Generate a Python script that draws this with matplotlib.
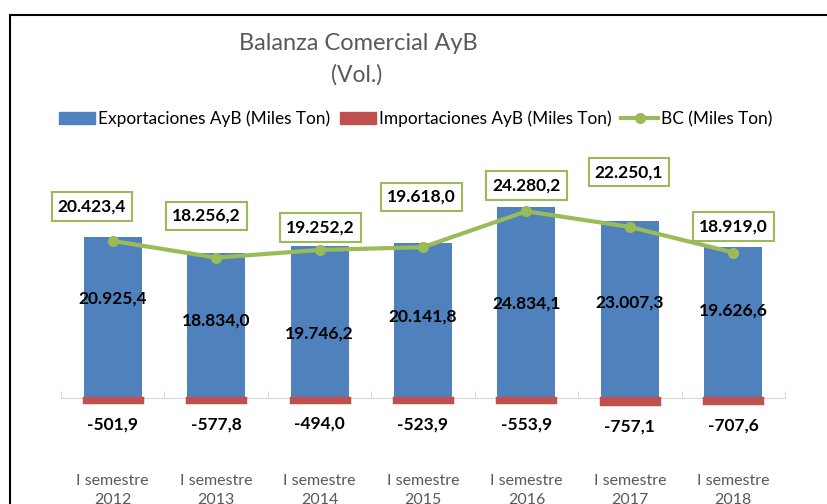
import matplotlib
matplotlib.use("Agg")
import matplotlib.pyplot as plt
from matplotlib.patches import Rectangle, Patch
from matplotlib.lines import Line2D
import numpy as np

plt.rcParams['font.family'] = ['Lato', 'DejaVu Sans']

# data
categories = ["I semestre\n2012", "I semestre\n2013", "I semestre\n2014", "I semestre\n2015",
              "I semestre\n2016", "I semestre\n2017", "I semestre\n2018"]
exportaciones = [20925.4, 18834.0, 19746.2, 20141.8, 24834.1, 23007.3, 19626.6]
importaciones = [-501.9, -577.8, -494.0, -523.9, -553.9, -757.1, -707.6]
balanza = [20423.4, 18256.2, 19252.2, 19618.0, 24280.2, 22250.1, 18919.0]

# label offsets (points), moved by hand in the original
exp_label_dy = [14, 3.3, -8, 2.6, -0.4, 4.7, 9]
bc_label_dx = [-15, -7, 0.7, -1.4, 0, -0.7, 0]
bc_label_dy = [24.8, 30, 16.2, 36.4, 18.6, 39.5, 18.7]

BLUE = "#4f81bd"
RED = "#c0504d"
GREEN = "#9bbb59"
GREY = "#595959"


def fmt(v):
    s = f"{v:,.1f}"
    return s.replace(",", "X").replace(".", ",").replace("X", ".")


W, H = 827, 504
fig = plt.figure(figsize=(W / 100, H / 100), dpi=100)
ymin, ymax = -8000, 33500
ax = fig.add_axes([61 / W, 1 - 459.5 / H, 724 / W, 319.1 / H])

x = np.arange(len(categories))
ax.bar(x, exportaciones, width=0.56, color=BLUE, zorder=2)
ax.bar(x, importaciones, width=0.56, color=RED, edgecolor=RED, linewidth=2.5, zorder=2)
ax.plot(x, balanza, color=GREEN, lw=3, marker='o', ms=7, zorder=3)

ax.set_xlim(-0.5, len(categories) - 0.5)
ax.set_ylim(ymin, ymax)
for s in ['top', 'left', 'right']:
    ax.spines[s].set_visible(False)
ax.spines['bottom'].set_position(('data', 0))
ax.spines['bottom'].set_color("#d9d9d9")
ax.spines['bottom'].set_zorder(1)
ax.set_yticks([])
ax.set_xticks(np.arange(-0.5, len(categories), 1.0))
ax.tick_params(axis='x', direction='in', length=5, color="#d9d9d9", labelbottom=False)

# category labels sit low, the year line is cut by the bottom edge as in the original
for i, cat in enumerate(categories):
    ax.text(i, -0.046, cat, transform=ax.get_xaxis_transform(), ha='center', va='top',
            fontsize=11.5, color=GREY, linespacing=1.4)

for i, v in enumerate(exportaciones):
    ax.annotate(fmt(v), (i, v / 2), xytext=(0, exp_label_dy[i]), textcoords='offset points',
                ha='center', va='center', fontsize=12.5, fontweight='bold', color='black', zorder=5)

for i, v in enumerate(importaciones):
    ax.annotate(fmt(v), (i, v), xytext=(0, -16), textcoords='offset points',
                ha='center', va='center', fontsize=12.5, fontweight='bold', color='black')

for i, v in enumerate(balanza):
    ax.annotate(fmt(v), (i, v), xytext=(bc_label_dx[i], bc_label_dy[i]), textcoords='offset points',
                ha='center', va='center', fontsize=12.5, fontweight='bold', color='black',
                bbox=dict(boxstyle='square,pad=0.35', fc='white', ec=GREEN, lw=1.5), zorder=6)

# title
fig.text(358 / W, 1 - 43 / H, "Balanza Comercial AyB", ha='center', va='center', fontsize=17, color=GREY)
fig.text(357 / W, 1 - 75 / H, "(Vol.)", ha='center', va='center', fontsize=16.5, color=GREY)

# legend
handles = [Patch(color=BLUE), Patch(color=RED),
           Line2D([], [], color=GREEN, lw=3, marker='o', ms=7)]
labels = ["Exportaciones AyB (Miles Ton)", "Importaciones AyB (Miles Ton)", "BC (Miles Ton)"]
fig.legend(handles, labels, loc='center', bbox_to_anchor=(415.5 / W, 1 - 119 / H), ncol=3,
           frameon=False, fontsize=12.4, handlelength=2.1, handletextpad=0.2,
           columnspacing=0.55, labelcolor='black')

# outer frame (cut off on the right and bottom)
fig.patches.append(Rectangle((9.5 / W, -0.1), 1.2, 1.1 - 15.5 / H, transform=fig.transFigure,
                             fill=False, ec='black', lw=1.5))

fig.savefig("out.png", dpi=100)
